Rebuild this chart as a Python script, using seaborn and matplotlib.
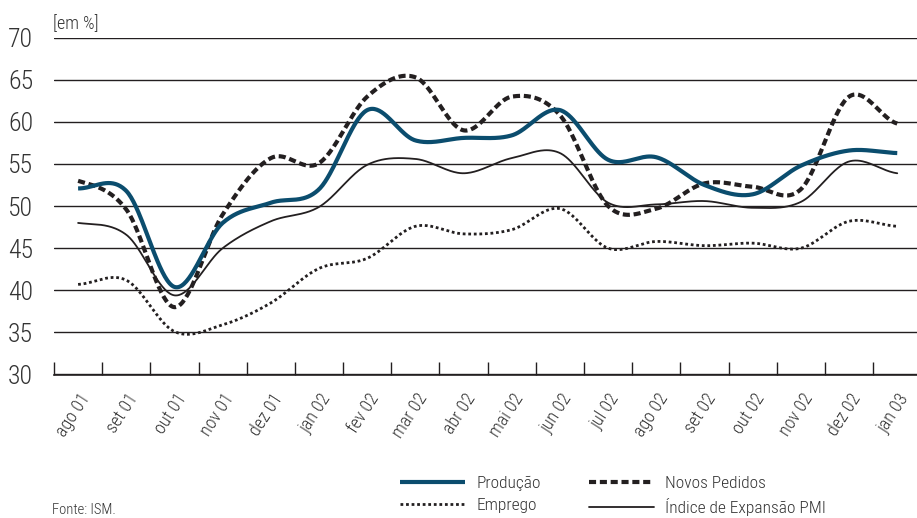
import numpy as np
import pandas as pd
import matplotlib
matplotlib.use("Agg")
import matplotlib.pyplot as plt
import matplotlib.transforms as mtransforms
from matplotlib.ticker import FixedLocator, NullFormatter, FixedFormatter
from matplotlib import font_manager
import seaborn as sns

# ---- data -----------------------------------------------------------------
months = ["ago 01", "set 01", "out 01", "nov 01", "dez 01", "jan 02",
          "fev 02", "mar 02", "abr 02", "mai 02", "jun 02", "jul 02",
          "ago 02", "set 02", "out 02", "nov 02", "dez 02", "jan 03"]

producao = [52.1, 51.8, 40.4, 48.0, 50.4, 52.0, 61.4, 57.8, 58.1,
            58.4, 61.4, 55.5, 55.8, 52.5, 51.4, 54.8, 56.6, 56.3]
novos_pedidos = [53.0, 49.6, 38.0, 49.0, 55.7, 55.1, 63.0, 65.3, 59.0,
                 63.0, 60.8, 50.0, 49.7, 52.7, 52.3, 52.0, 63.0, 59.8]
emprego = [40.7, 41.2, 35.1, 35.9, 38.5, 42.6, 43.8, 47.6, 46.7,
           47.2, 49.7, 45.0, 45.8, 45.3, 45.6, 45.0, 48.2, 47.6]
pmi = [48.0, 46.6, 39.4, 45.0, 48.2, 49.9, 54.9, 55.6, 53.9,
       55.7, 56.3, 50.4, 50.2, 50.6, 49.8, 50.5, 55.3, 53.9]

y_ticks = [30, 35, 40, 45, 50, 55, 60, 65, 70]

# ---- smoothing (cardinal / Catmull-Rom spline through the monthly values) --
def smooth(values, per_seg=40):
    p = np.asarray(values, dtype=float)
    n = len(p)
    m = np.empty(n)
    m[1:-1] = (p[2:] - p[:-2]) / 2.0
    m[0] = (p[1] - p[0]) / 2.0
    m[-1] = (p[-1] - p[-2]) / 2.0
    xs, ys = [], []
    for i in range(n - 1):
        t = np.linspace(0, 1, per_seg, endpoint=(i == n - 2))
        h00 = 2 * t**3 - 3 * t**2 + 1
        h10 = t**3 - 2 * t**2 + t
        h01 = -2 * t**3 + 3 * t**2
        h11 = t**3 - t**2
        ys.append(h00 * p[i] + h10 * m[i] + h01 * p[i + 1] + h11 * m[i + 1])
        xs.append(i + t)
    return np.concatenate(xs), np.concatenate(ys)

# ---- style ----------------------------------------------------------------
sns.set_theme(style="white")
available = {f.name for f in font_manager.fontManager.ttflist}
preferred = ["Liberation Sans Narrow", "DejaVu Sans Condensed",
             "Roboto Condensed", "Open Sans Condensed", "Roboto"]
family = [f for f in preferred if f in available] + ["DejaVu Sans"]
plt.rcParams["font.family"] = family
plt.rcParams["font.weight"] = "light"
narrow = family[0] in ("Liberation Sans Narrow", "Roboto Condensed",
                       "Open Sans Condensed")
scale = 1.0 if narrow else 0.86

ink = "#231f20"
blue = "#0b4d6e"
txt = "#333333"

fig = plt.figure(figsize=(9.17, 5.18), dpi=100)
ax = fig.add_axes([54 / 917, 143.5 / 518, 863 / 917, 336.8 / 518])

series = [
    ("Produção", producao, dict(color=blue, lw=3.0, solid_capstyle="butt")),
    ("Emprego", emprego, dict(color=ink, lw=2.0, linestyle=(0, (1.0, 1.0)))),
    ("Novos Pedidos", novos_pedidos, dict(color=ink, lw=3.0, linestyle=(0, (1.7, 0.9)))),
    ("Índice de Expansão PMI", pmi, dict(color=ink, lw=1.3)),
]
draw_order = [3, 1, 2, 0]
handles = {}
for k in draw_order:
    name, vals, kw = series[k]
    xs, ys = smooth(vals)
    df = pd.DataFrame({"x": xs, "y": ys})
    sns.lineplot(data=df, x="x", y="y", ax=ax, label=name, **kw)
    handles[name] = ax.lines[-1]

ax.set_xlim(-0.5, 17.41)
ax.set_ylim(30, 70)
ax.set_xlabel("")
ax.set_ylabel("")

# y axis: labels only, horizontal rules at each level
ax.set_yticks(y_ticks)
ax.set_yticklabels([str(v) for v in y_ticks])
ax.tick_params(axis="y", length=0, pad=15, labelsize=18.5 * scale, labelcolor=txt)
ax.yaxis.grid(True, color=ink, lw=1.0)
ax.xaxis.grid(False)

# x axis: ticks on month boundaries, labels at month centres
ax.xaxis.set_major_locator(FixedLocator(np.arange(-0.5, 17.5, 1.0)))
ax.xaxis.set_major_formatter(NullFormatter())
ax.xaxis.set_minor_locator(FixedLocator(np.arange(len(months))))
ax.xaxis.set_minor_formatter(FixedFormatter(months))
ax.tick_params(axis="x", which="major", direction="in", length=9.5, width=1.0,
               color=ink, bottom=True)
ax.tick_params(axis="x", which="minor", length=0, pad=15, labelsize=13 * scale,
               labelcolor=txt, bottom=True)
shift = mtransforms.ScaledTranslation(8 / 100, 0, fig.dpi_scale_trans)
for lab in ax.get_xticklabels(minor=True):
    lab.set_rotation(57)
    lab.set_ha("right")
    lab.set_va("center")
    lab.set_rotation_mode("anchor")
    lab.set_transform(lab.get_transform() + shift)

for side in ["left", "right", "top"]:
    ax.spines[side].set_visible(False)
ax.spines["bottom"].set_color(ink)
ax.spines["bottom"].set_linewidth(1.2)

if ax.get_legend() is not None:
    ax.get_legend().remove()

order = ["Produção", "Emprego", "Novos Pedidos", "Índice de Expansão PMI"]
leg_fs = 12.5 * scale
fig.legend([handles[n] for n in order], order, ncol=2, frameon=False,
           loc="center left", bbox_to_anchor=(400 / 917, (518 - 496) / 518),
           borderpad=0, borderaxespad=0, handlelength=3.75 * 12.5 / leg_fs,
           handletextpad=0.65 * 12.5 / leg_fs,
           columnspacing=2.75 * 12.5 / leg_fs,
           labelspacing=0.42 * 12.5 / leg_fs + (0.2 if not narrow else 0),
           fontsize=leg_fs, labelcolor=txt)

fig.text(53 / 917, 1 - 24 / 518, "[em %]", fontsize=13 * scale, color=txt,
         ha="left", va="center")
fig.text(52 / 917, 1 - 510 / 518, "Fonte: ISM.", fontsize=10.5 * scale, color=txt,
         ha="left", va="center")

fig.savefig("out.png", dpi=100)
